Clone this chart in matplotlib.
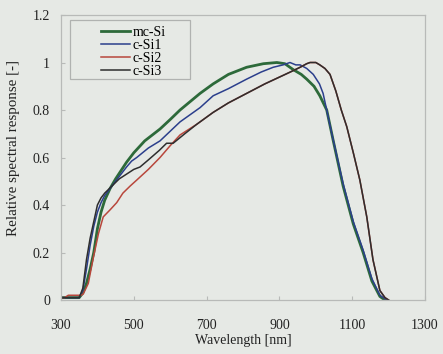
import matplotlib
matplotlib.use("Agg")
import matplotlib.pyplot as plt
from matplotlib.patches import Rectangle

# Relative spectral response of four silicon cells
wl_mc = [300, 330, 350, 360, 370, 380, 390, 400, 410, 420, 435, 450, 480, 500, 530, 572,
         600, 627, 682, 718, 760, 810, 856, 893, 915, 938, 960, 975, 995, 1011, 1030,
         1048, 1075, 1103, 1130, 1154, 1176, 1190]
sr_mc = [0.01, 0.01, 0.01, 0.03, 0.07, 0.13, 0.20, 0.30, 0.37, 0.42, 0.47, 0.51, 0.58,
         0.62, 0.67, 0.72, 0.76, 0.80, 0.87, 0.91, 0.95, 0.98, 0.995, 1.0, 0.995, 0.97,
         0.95, 0.93, 0.90, 0.86, 0.80, 0.67, 0.48, 0.32, 0.20, 0.08, 0.015, 0.0]

wl_c1 = [300, 330, 350, 360, 370, 380, 390, 400, 410, 420, 440, 460, 480, 494, 508, 540,
         572, 627, 682, 718, 760, 810, 850, 883, 910, 929, 945, 957, 975, 993, 1010,
         1020, 1044, 1075, 1103, 1130, 1154, 1176, 1195]
sr_c1 = [0.01, 0.01, 0.01, 0.04, 0.13, 0.23, 0.31, 0.37, 0.41, 0.44, 0.48, 0.52, 0.56,
         0.585, 0.60, 0.64, 0.67, 0.75, 0.81, 0.86, 0.89, 0.93, 0.96, 0.98, 0.99, 1.0,
         0.99, 0.99, 0.975, 0.95, 0.91, 0.87, 0.70, 0.49, 0.33, 0.21, 0.09, 0.02, 0.0]

wl_c2 = [300, 310, 320, 345, 355, 361, 375, 389, 403, 416, 435, 453, 470, 490, 508, 540,
         572, 600, 627, 673, 718, 760, 810, 860, 902, 930, 957, 975, 984, 1000, 1011,
         1025, 1039, 1055, 1070, 1085, 1103, 1121, 1140, 1157, 1176, 1190, 1200]
sr_c2 = [0.01, 0.01, 0.02, 0.02, 0.02, 0.025, 0.07, 0.18, 0.28, 0.35, 0.38, 0.41, 0.45,
         0.48, 0.505, 0.55, 0.60, 0.65, 0.695, 0.74, 0.79, 0.83, 0.87, 0.91, 0.94, 0.96,
         0.98, 0.995, 1.0, 1.0, 0.99, 0.975, 0.95, 0.88, 0.80, 0.73, 0.62, 0.505, 0.35,
         0.17, 0.04, 0.01, 0.0]

wl_c3 = [300, 340, 350, 360, 370, 380, 390, 400, 410, 420, 440, 460, 480, 500, 517, 540,
         570, 590, 608, 640, 673, 718, 760, 810, 860, 902, 930, 957, 975, 984, 1000,
         1011, 1025, 1039, 1055, 1070, 1085, 1103, 1121, 1140, 1157, 1176, 1190, 1200]
sr_c3 = [0.01, 0.01, 0.01, 0.05, 0.17, 0.26, 0.33, 0.40, 0.43, 0.45, 0.48, 0.51, 0.53,
         0.55, 0.56, 0.59, 0.63, 0.66, 0.66, 0.70, 0.74, 0.79, 0.83, 0.87, 0.91, 0.94,
         0.96, 0.98, 0.995, 1.0, 1.0, 0.99, 0.975, 0.95, 0.88, 0.80, 0.73, 0.62, 0.505,
         0.35, 0.17, 0.04, 0.01, 0.0]

labels = ["mc-Si", "c-Si1", "c-Si2", "c-Si3"]
x_ticks = [300, 500, 700, 900, 1100, 1300]
y_ticks = [0, 0.2, 0.4, 0.6, 0.8, 1.0, 1.2]
y_tick_labels = ["0", "0.2", "0.4", "0.6", "0.8", "1", "1.2"]

plt.rcParams["font.family"] = ["Liberation Serif", "DejaVu Serif"]
bg = "#e6e9e5"
edge = "#b8bab8"
ink = "#222222"

fig = plt.figure(figsize=(4.43, 3.54), dpi=100, facecolor=bg)
ax = fig.add_axes([0.1377, 0.1525, 0.8217, 0.8051])
ax.set_facecolor(bg)

ax.plot(wl_mc, sr_mc, color="#2d6a3a", lw=2.0, label=labels[0])
ax.plot(wl_c1, sr_c1, color="#2b3f8c", lw=1.1, label=labels[1])
ax.plot(wl_c2, sr_c2, color="#b8473c", lw=1.1, label=labels[2])
ax.plot(wl_c3, sr_c3, color="#2e2e2e", lw=1.1, label=labels[3])

ax.set_xlim(300, 1300)
ax.set_ylim(0, 1.2)
ax.set_xticks(x_ticks)
ax.set_yticks(y_ticks)
ax.set_yticklabels(y_tick_labels)
ax.tick_params(axis="both", labelsize=10, length=3, color=edge,
               direction="in", colors=ink)
ax.tick_params(axis="x", pad=14)
ax.tick_params(axis="y", pad=8)
for sp in ax.spines.values():
    sp.set_color(edge)
    sp.set_linewidth(0.9)

ax.set_xlabel("Wavelength [nm]", fontsize=10, color=ink, labelpad=1)
ax.set_ylabel("Relative spectral response [-]", fontsize=10.8, color=ink,
              labelpad=6)
ax.yaxis.set_label_coords(-0.112, 0.535)

# legend box drawn separately so the entries sit indented inside it
ax.add_patch(Rectangle((0.025, 0.775), 0.33, 0.207, transform=ax.transAxes,
                       facecolor="none", edgecolor="#b0b2b0", lw=0.9, zorder=4))
leg = ax.legend(loc="upper left", bbox_to_anchor=(0.097, 0.978), fontsize=10,
                frameon=False, handlelength=2.1, handletextpad=0.15,
                labelspacing=0.0, borderpad=0.35, borderaxespad=0.0)

fig.savefig("out.png", dpi=100, facecolor=bg)
